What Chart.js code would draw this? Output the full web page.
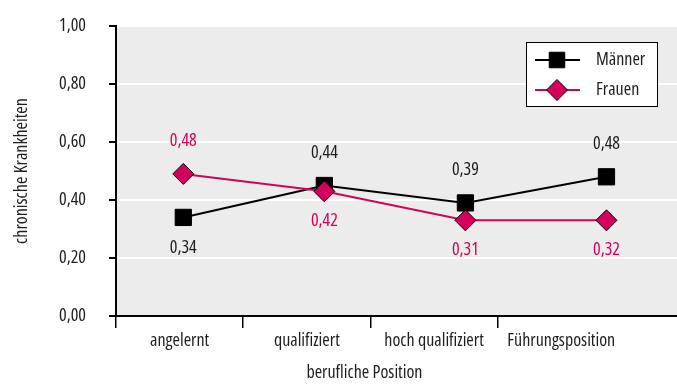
<!DOCTYPE html>
<html>
<head>
<meta charset="utf-8">
<script src="https://cdn.jsdelivr.net/npm/chart.js"></script>
<style>
    html, body { margin: 0; padding: 0; background: #fff; }
</style>
</head>
<body>
<canvas id="chart" width="677" height="387"></canvas>
<script>
// Data
const categories = ['angelernt', 'qualifiziert', 'hoch qualifiziert', 'Führungsposition'];
const maennerValues = [0.34, 0.45, 0.39, 0.48];
const frauenValues = [0.49, 0.43, 0.33, 0.33];
const maennerLabels = ['0,34', '0,44', '0,39', '0,48'];
const frauenLabels = ['0,48', '0,42', '0,31', '0,32'];
const maennerLabelSide = ['below', 'above', 'above', 'above'];
const frauenLabelSide = ['above', 'below', 'below', 'below'];
const yTicks = [0, 0.2, 0.4, 0.6, 0.8, 1.0];

const FAMILY = '"Open Sans", "Roboto Condensed", sans-serif';
const FSIZE = 18;
// "condensed" goes into the weight slot so the canvas font string picks the narrow width axis
const axisFont = { family: FAMILY, size: FSIZE, weight: 'condensed' };
const canvasFont = 'condensed ' + FSIZE + 'px ' + FAMILY;
const PINK = '#d4005c';
const TEXT = '#1e1e1e';

// gray plot area + white page
const plotBackground = {
    id: 'plotBackground',
    beforeDraw(chart) {
        const { ctx, chartArea: a } = chart;
        ctx.save();
        ctx.fillStyle = '#fff';
        ctx.fillRect(0, 0, chart.width, chart.height);
        ctx.fillStyle = '#ececec';
        ctx.fillRect(a.left, a.top, a.right - a.left, a.bottom - a.top);
        ctx.restore();
    }
};

// numbers next to the points
const valueLabels = {
    id: 'valueLabels',
    afterDatasetsDraw(chart) {
        const ctx = chart.ctx;
        ctx.save();
        ctx.font = canvasFont;
        ctx.textAlign = 'center';
        ctx.textBaseline = 'middle';
        chart.data.datasets.forEach((ds, di) => {
            const meta = chart.getDatasetMeta(di);
            const isM = ds.label === 'Männer';
            const texts = isM ? maennerLabels : frauenLabels;
            const sides = isM ? maennerLabelSide : frauenLabelSide;
            ctx.fillStyle = isM ? TEXT : PINK;
            meta.data.forEach((pt, i) => {
                const dy = sides[i] === 'above' ? -33 : 30;
                ctx.fillText(texts[i], pt.x, pt.y + dy);
            });
        });
        ctx.restore();
    }
};

// x axis title, centred under the category band
const bandTitle = {
    id: 'bandTitle',
    afterDraw(chart) {
        const sc = chart.scales.xLabels;
        const ctx = chart.ctx;
        const cx = (sc.getPixelForValue(0) + sc.getPixelForValue(categories.length)) / 2;
        ctx.save();
        ctx.font = canvasFont;
        ctx.fillStyle = TEXT;
        ctx.textAlign = 'center';
        ctx.textBaseline = 'middle';
        ctx.fillText('berufliche Position', cx - 6, sc.bottom - 14);
        ctx.restore();
    }
};

// boxed legend with line + marker samples
const boxLegend = {
    id: 'boxLegend',
    afterDraw(chart) {
        const ctx = chart.ctx;
        const left = 526, top = 42, w = 131, h = 64;
        ctx.save();
        ctx.fillStyle = '#fff';
        ctx.fillRect(left, top, w, h);
        ctx.strokeStyle = '#000';
        ctx.lineWidth = 1;
        ctx.strokeRect(left + 0.5, top + 0.5, w, h);
        const rows = [
            { label: 'Männer', color: '#000', style: 'rect', radius: 11, y: 60 },
            { label: 'Frauen', color: PINK, style: 'rectRot', radius: 10.5, y: 90 }
        ];
        rows.forEach(r => {
            ctx.strokeStyle = r.color;
            ctx.lineWidth = 2;
            ctx.beginPath();
            ctx.moveTo(535, r.y);
            ctx.lineTo(580, r.y);
            ctx.stroke();
            ctx.fillStyle = r.color;
            ctx.strokeStyle = '#000';
            ctx.lineWidth = 1;
            Chart.helpers.drawPoint(ctx, { pointStyle: r.style, radius: r.radius, rotation: 0, borderWidth: 1 }, 557, r.y);
            ctx.fillStyle = TEXT;
            ctx.font = canvasFont;
            ctx.textAlign = 'left';
            ctx.textBaseline = 'middle';
            ctx.fillText(r.label, 596, r.y);
        });
        ctx.restore();
    }
};

const ctx = document.getElementById('chart').getContext('2d');

new Chart(ctx, {
    type: 'line',
    data: {
        datasets: [
            {
                label: 'Frauen',
                data: frauenValues.map((v, i) => ({ x: i, y: v })),
                borderColor: PINK,
                backgroundColor: PINK,
                borderWidth: 2,
                pointStyle: 'rectRot',
                pointRadius: 10.5,
                pointBorderColor: '#000',
                pointBorderWidth: 1,
                order: 1,
                xAxisID: 'x'
            },
            {
                label: 'Männer',
                data: maennerValues.map((v, i) => ({ x: i, y: v })),
                borderColor: '#000',
                backgroundColor: '#000',
                borderWidth: 2,
                pointStyle: 'rect',
                pointRadius: 11.5,
                pointBorderColor: '#000',
                pointBorderWidth: 1,
                order: 2,
                xAxisID: 'x'
            }
        ]
    },
    options: {
        responsive: false,
        animation: false,
        layout: {
            autoPadding: false,
            padding: { top: 26, right: 0, left: 0, bottom: 0 }
        },
        plugins: {
            legend: { display: false },
            tooltip: { enabled: false }
        },
        scales: {
            x: {
                type: 'linear',
                min: -0.477,
                max: 3.5,
                display: false
            },
            xLabels: {
                type: 'linear',
                position: 'bottom',
                min: 0,
                max: 4.41,
                afterBuildTicks: scale => {
                    scale.ticks = categories.map((c, i) => ({ value: i + 0.5 }));
                },
                afterFit: scale => {
                    scale.height = 71;
                    scale.paddingLeft = 0;
                    scale.paddingRight = 0;
                },
                ticks: {
                    autoSkip: false,
                    maxRotation: 0,
                    padding: 2,
                    color: TEXT,
                    font: axisFont,
                    callback: (v, i) => categories[i]
                },
                grid: {
                    offset: true,
                    drawOnChartArea: false,
                    tickLength: 12,
                    lineWidth: 1.5,
                    tickColor: c => c.type === 'tick' ? '#000' : 'rgba(0,0,0,0)'
                },
                border: { color: '#000', width: 2 }
            },
            y: {
                min: 0,
                max: 1,
                afterBuildTicks: scale => {
                    scale.ticks = yTicks.map(v => ({ value: v }));
                },
                afterFit: scale => {
                    scale.width = 116;
                    scale.paddingTop = 0;
                    scale.paddingBottom = 0;
                },
                ticks: {
                    padding: 23,
                    color: TEXT,
                    font: axisFont,
                    callback: v => v.toFixed(2).replace('.', ',')
                },
                grid: {
                    color: '#fff',
                    lineWidth: 2,
                    tickLength: 7,
                    tickColor: '#000'
                },
                border: { color: '#000', width: 2 },
                title: {
                    display: true,
                    text: 'chronische Krankheiten',
                    color: TEXT,
                    font: axisFont,
                    padding: { top: 11, bottom: 0 }
                }
            }
        }
    },
    plugins: [plotBackground, valueLabels, bandTitle, boxLegend]
});
</script>
</body>
</html>
